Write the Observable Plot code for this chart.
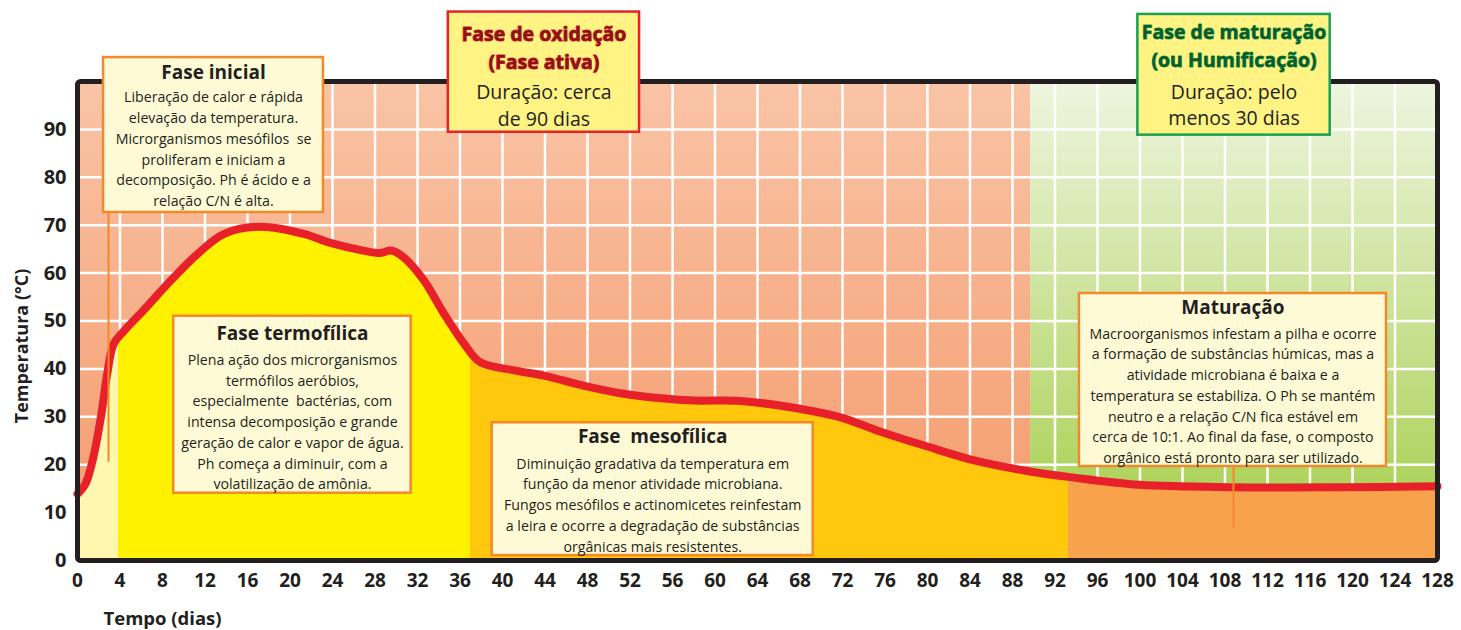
<!DOCTYPE html>
<html>
<head>
<meta charset="utf-8">
<script src="https://cdn.jsdelivr.net/npm/d3@7"></script>
<script src="https://cdn.jsdelivr.net/npm/@observablehq/plot@0.6"></script>
<style>
  html, body { margin: 0; padding: 0; background: #ffffff; }
  #chart { width: 1461px; height: 630px; }
</style>
</head>
<body>
<div id="chart"></div>
<script>
// ---------------- DATA ----------------
// Temperature curve of composting
const days  = [0, 0.75, 1.5, 2.2, 2.8, 3.4, 4.4, 6.2, 8.8, 11.3, 13.8, 17.2, 21.3, 23.8, 26.9, 28.5, 29.5, 30.7, 32.6, 34.5, 36.4, 37.9, 41.1, 43.9, 47.6, 51.4, 55.2, 58, 62.4, 67.1, 71.8, 75.3, 79.7, 84.4, 89.1, 93.8, 100, 108.8, 118.8, 128];
const temps = [13.9, 16, 21.6, 29.9, 39, 45.2, 48, 52.2, 58.5, 64, 68.2, 69.7, 68.2, 66.3, 64.7, 64.2, 64.7, 63.3, 58.5, 51.5, 45.2, 41.4, 39.7, 38.6, 36.5, 34.8, 33.8, 33.4, 33.3, 32, 29.9, 27.1, 24, 20.9, 18.8, 17.3, 15.8, 15.3, 15.3, 15.5];

// Tick labels
const xTicks = [0, 4, 8, 12, 16, 20, 24, 28, 32, 36, 40, 44, 48, 52, 56, 60, 64, 68, 72, 76, 80, 84, 88, 92, 96, 100, 104, 108, 112, 116, 120, 124, 128];
const yTicks = [0, 10, 20, 30, 40, 50, 60, 70, 80, 90];

// Sub-phases under the curve (days)
const phaseNames = ["Fase inicial", "Fase termofílica", "Fase mesofílica", "Maturação"];
const phaseStart = [0, 3.9, 37, 93.3];
const phaseEnd   = [3.9, 37, 93.3, 128];

// Main periods (background)
const periodNames = ["Fase de oxidação", "Fase de maturação"];
const periodStart = [0, 89.7];
const periodEnd   = [89.7, 128];

// Annotation texts
const infoTitles = ["Fase inicial", "Fase termofílica", "Fase  mesofílica", "Maturação"];
const infoBodies = [
  "Liberação de calor e rápida\nelevação da temperatura.\nMicrorganismos mesófilos  se\nproliferam e iniciam a\ndecomposição. Ph é ácido e a\nrelação C/N é alta.",
  "Plena ação dos microrganismos\ntermófilos aeróbios,\nespecialmente  bactérias, com\nintensa decomposição e grande\ngeração de calor e vapor de água.\nPh começa a diminuir, com a\nvolatilização de amônia.",
  "Diminuição gradativa da temperatura em\nfunção da menor atividade microbiana.\nFungos mesófilos e actinomicetes reinfestam\na leira e ocorre a degradação de substâncias\norgânicas mais resistentes.",
  "Macroorganismos infestam a pilha e ocorre\na formação de substâncias húmicas, mas a\natividade microbiana é baixa e a\ntemperatura se estabiliza. O Ph se mantém\nneutro e a relação C/N fica estável em\ncerca de 10:1. Ao final da fase, o composto\norgânico está pronto para ser utilizado."
];
const headTitles = ["Fase de oxidação\n(Fase ativa)", "Fase de maturação\n(ou Humificação)"];
const headBodies = ["Duração: cerca\nde 90 dias", "Duração: pelo\nmenos 30 dias"];

// ---------------- LAYOUT (annotation placement, in data units) ----------------
const infoBox = [
  {x1: 2.45, x2: 23.15, top: 105.0, bottom: 72.65, titleDy: 15, bodyDy: 90},
  {x1: 9.06, x2: 31.4,  top: 51.0,  bottom: 14.05, titleDy: 17.6, bodyDy: 104.3},
  {x1: 39.03, x2: 69.24, top: 28.75, bottom: 1.04, titleDy: 14.4, bodyDy: 80.7},
  {x1: 94.3, x2: 123.2, top: 55.74, bottom: 19.62, titleDy: 14.3, bodyDy: 100.7}
];
const headBox = [
  {x1: 34.9, x2: 52.9, top: 114.5, bottom: 89.4, titleDy: 34.2, bodyDy: 91.6},
  {x1: 99.8, x2: 117.9, top: 114.0, bottom: 88.8, titleDy: 29.3, bodyDy: 89}
];
const connectors = [
  {x: 2.92, y1: 20.5, y2: 72.65},
  {x: 108.8, y1: 6.7, y2: 19.62}
];

// ---------------- STYLE ----------------
const FONT = "'Open Sans', 'DejaVu Sans', sans-serif";
const INK = "#231f20";
const phaseColors = ["#fff6b0", "#fff200", "#ffc80c", "#f8a34b"];
const periodFills = ["url(#gPink)", "url(#gGreen)"];
const infoFill = "#fffad6", infoStroke = "#f4892a";
const headFill = ["#fff384", "#fff384"];
const headStroke = ["#e8202a", "#1aa050"];
const headTitleFill = ["#8a1414", "#0d5a2b"];
const headTitleHalo = ["#e8202a", "#22a452"];

// gradient definitions
function defsMark() {
  const ns = "http://www.w3.org/2000/svg";
  const g = document.createElementNS(ns, "g");
  const defs = document.createElementNS(ns, "defs");
  function grad(id, x2, y2, stops) {
    const lg = document.createElementNS(ns, "linearGradient");
    lg.setAttribute("id", id);
    lg.setAttribute("x1", "0"); lg.setAttribute("y1", "0");
    lg.setAttribute("x2", x2); lg.setAttribute("y2", y2);
    for (const [o, c] of stops) {
      const s = document.createElementNS(ns, "stop");
      s.setAttribute("offset", o);
      s.setAttribute("stop-color", c);
      lg.appendChild(s);
    }
    defs.appendChild(lg);
  }
  grad("gPink", "0", "1", [[0, "#f9c4a6"], [1, "#f4996a"]]);
  grad("gGreen", "0", "1", [[0, "#eff5e0"], [1, "#a3cd46"]]);
  const total = xTicks[xTicks.length - 1] - xTicks[0];
  const stops = [];
  phaseStart.forEach((s, i) => {
    stops.push([(s - xTicks[0]) / total, phaseColors[i]]);
    stops.push([(phaseEnd[i] - xTicks[0]) / total, phaseColors[i]]);
  });
  grad("gUnder", "1", "0", stops);
  g.appendChild(defs);
  return g;
}

const periods = periodNames.map((name, i) => ({name, x1: periodStart[i], x2: periodEnd[i], fill: periodFills[i]}));

const marks = [
  defsMark,
  // background periods
  ...periods.map(p => Plot.rect([p], {x1: "x1", x2: "x2", y1: 0, y2: 100, fill: p.fill})),
  // white grid
  Plot.gridX(xTicks.filter(t => t > 0 && t < 128), {stroke: "white", strokeOpacity: 1, strokeWidth: 2.5}),
  Plot.gridY(yTicks.filter(t => t > 0), {stroke: "white", strokeOpacity: 1, strokeWidth: 2.5}),
  // filled area under the curve with phase colours
  Plot.areaY(temps, {x: days, y: temps, curve: "catmull-rom", fill: "url(#gUnder)"}),
  // temperature curve
  Plot.line(temps, {x: days, y: temps, curve: "catmull-rom", stroke: "#e8202a", strokeWidth: 8, strokeLinejoin: "round"}),
  // frame
  Plot.frame({stroke: INK, strokeWidth: 5, rx: 3}),
  // axes
  Plot.axisX(xTicks, {tickSize: 0, tickPadding: 13, fontSize: 19, fontWeight: "bold", color: INK, label: null}),
  Plot.axisY(yTicks, {tickSize: 0, tickPadding: 11, fontSize: 20, fontWeight: "bold", color: INK, label: null}),
  Plot.text(["Tempo (dias)"], {frameAnchor: "bottom-left", dx: 26, dy: 64, textAnchor: "start", fontSize: 18.5, fontWeight: "bold", fill: INK}),
  Plot.text(["Temperatura (°C)"], {frameAnchor: "left", rotate: -90, textAnchor: "middle", dx: -55, dy: 25, fontSize: 18, fontWeight: "bold", fill: INK}),
  // connectors
  Plot.ruleX(connectors, {x: "x", y1: "y1", y2: "y2", stroke: infoStroke, strokeWidth: 2}),
  // info boxes
  Plot.rect(infoBox, {x1: "x1", x2: "x2", y1: "bottom", y2: "top", fill: infoFill, stroke: infoStroke, strokeWidth: 2.5}),
  ...infoBox.flatMap((b, i) => [
    Plot.text([b], {x: d => (d.x1 + d.x2) / 2, y: "top", text: () => infoTitles[i], dy: b.titleDy, lineAnchor: "middle", fontSize: 19, fontWeight: "bold", fill: INK}),
    Plot.text([b], {x: d => (d.x1 + d.x2) / 2, y: "top", text: () => infoBodies[i], dy: b.bodyDy, lineAnchor: "middle", lineHeight: 1.46, fontSize: 14.2, fill: INK})
  ]),
  // period header boxes
  ...headBox.flatMap((b, i) => [
    Plot.rect([b], {x1: "x1", x2: "x2", y1: "bottom", y2: "top", fill: headFill[i], stroke: headStroke[i], strokeWidth: 2.5}),
    Plot.text([b], {x: d => (d.x1 + d.x2) / 2, y: "top", text: () => headTitles[i], dy: b.titleDy, lineAnchor: "middle", lineHeight: 1.45, fontSize: 19.5, fontWeight: "bold", fill: headTitleFill[i], stroke: headTitleHalo[i], strokeWidth: 1}),
    Plot.text([b], {x: d => (d.x1 + d.x2) / 2, y: "top", text: () => headBodies[i], dy: b.bodyDy, lineAnchor: "middle", lineHeight: 1.37, fontSize: 19.5, fill: INK})
  ])
];

const chart = Plot.plot({
  width: 1461,
  height: 630,
  marginLeft: 77,
  marginRight: 24,
  marginTop: 81,
  marginBottom: 70,
  x: {domain: [0, 128]},
  y: {domain: [0, 100]},
  style: {fontFamily: FONT, background: "transparent", overflow: "visible"},
  marks
});
document.getElementById("chart").appendChild(chart);
</script>
</body>
</html>
